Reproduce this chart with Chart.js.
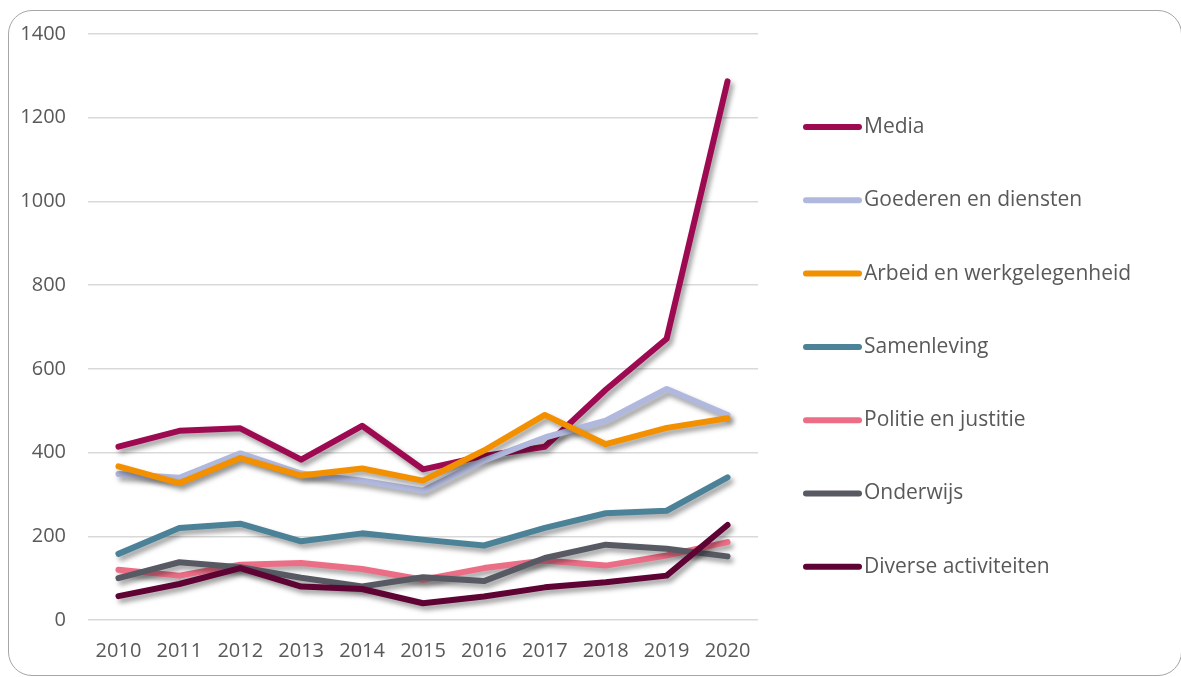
<!DOCTYPE html>
<html>
<head>
<meta charset="utf-8">
<script src="https://cdn.jsdelivr.net/npm/chart.js@4"></script>
<style>
  html, body { margin: 0; padding: 0; background: #fff; }
  #frame {
    position: absolute; left: 8px; top: 10px; width: 1174px; height: 666px;
    border: 1.5px solid #a6a6a6; border-radius: 24px; box-sizing: border-box;
  }
  #wrap { position: absolute; left: 0; top: 0; width: 1181px; height: 677px; }
</style>
</head>
<body>
<div id="frame"></div>
<div id="wrap"><canvas id="lineChart" width="1181" height="677"></canvas></div>
<script>
const years = ['2010', '2011', '2012', '2013', '2014', '2015', '2016', '2017', '2018', '2019', '2020'];
const yTicks = [0, 200, 400, 600, 800, 1000, 1200, 1400];

const media      = [414, 452, 458, 383, 464, 360, 392, 414, 550, 672, 1287];
const goederen   = [349, 340, 398, 350, 333, 309, 381, 436, 476, 552, 490];
const arbeid     = [367, 327, 387, 345, 362, 333, 405, 490, 420, 459, 482];
const samenleving = [158, 220, 230, 188, 207, 192, 178, 220, 255, 261, 341];
const politie    = [120, 106, 132, 136, 122, 96, 124, 142, 130, 154, 186];
const onderwijs  = [100, 138, 126, 101, 80, 102, 93, 148, 180, 170, 152];
const diverse    = [57, 86, 124, 80, 74, 40, 56, 78, 90, 106, 227];

const seriesNames = ['Media', 'Goederen en diensten', 'Arbeid en werkgelegenheid', 'Samenleving',
                     'Politie en justitie', 'Onderwijs', 'Diverse activiteiten'];
const seriesData = [media, goederen, arbeid, samenleving, politie, onderwijs, diverse];
const seriesColors = ['#9e0a52', '#b1b8dd', '#f39000', '#4b8297', '#eb6d86', '#575a62', '#5e0333'];

const textColor = '#595959';
const fontFamily = '"Open Sans", sans-serif';

// soft drop shadow under each line, like the office chart
const lineShadow = {
    id: 'lineShadow',
    beforeDatasetDraw(chart) {
        const c = chart.ctx;
        c.save();
        c.shadowColor = 'rgba(0,0,0,0.38)';
        c.shadowBlur = 5;
        c.shadowOffsetX = 3;
        c.shadowOffsetY = 4;
    },
    afterDatasetDraw(chart) {
        chart.ctx.restore();
    }
};

// legend on the right, one item per series
const sideLegend = {
    id: 'sideLegend',
    afterDraw(chart) {
        const c = chart.ctx;
        c.save();
        c.font = '21px ' + fontFamily;
        c.textBaseline = 'middle';
        c.lineCap = 'round';
        c.lineWidth = 6;
        chart.data.datasets.forEach((ds, i) => {
            const y = 127 + i * 73.3;
            c.strokeStyle = ds.borderColor;
            c.beginPath();
            c.moveTo(806, y);
            c.lineTo(859, y);
            c.stroke();
            c.fillStyle = textColor;
            c.fillText(ds.label, 864, y);
        });
        c.restore();
    }
};

const ctx = document.getElementById('lineChart').getContext('2d');
const lineChart = new Chart(ctx, {
    type: 'line',
    data: {
        labels: years,
        datasets: seriesNames.map((name, i) => ({
            label: name,
            data: seriesData[i],
            borderColor: seriesColors[i],
            backgroundColor: seriesColors[i],
            borderWidth: 6,
            borderCapStyle: 'round',
            borderJoinStyle: 'round',
            pointRadius: 0,
            tension: 0,
            fill: false,
            order: seriesNames.length - i
        }))
    },
    options: {
        responsive: false,
        animation: false,
        layout: { padding: { left: 0, right: 423, top: 33, bottom: 17 } },
        plugins: {
            legend: { display: false },
            tooltip: { enabled: false }
        },
        scales: {
            x: {
                offset: true,
                grid: { display: false, drawTicks: false },
                border: { display: false },
                ticks: { color: textColor, font: { family: fontFamily, size: 20 }, padding: 19, maxRotation: 0 },
                afterFit(axis) { axis.height = 40; }
            },
            y: {
                min: 0,
                max: 1400,
                afterBuildTicks(axis) { axis.ticks = yTicks.map(v => ({ value: v })); },
                grid: { color: '#d9d9d9', lineWidth: 1.5, drawTicks: false },
                border: { display: false },
                ticks: {
                    color: textColor,
                    font: { family: fontFamily, size: 20 },
                    padding: 22,
                    callback: (v) => String(v)
                },
                afterFit(axis) { axis.width = 88; }
            }
        }
    },
    plugins: [lineShadow, sideLegend]
});
</script>
</body>
</html>
